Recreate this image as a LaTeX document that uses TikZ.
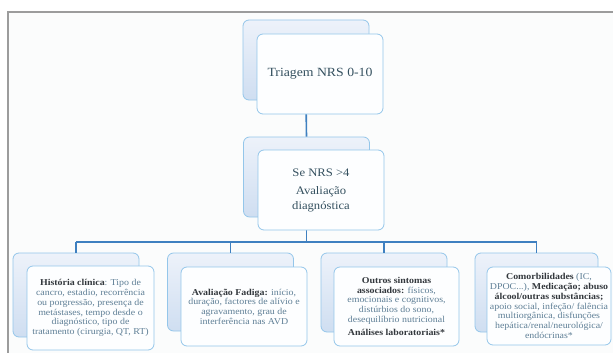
\documentclass[tikz,border=0pt]{standalone}
\usepackage{fontspec}
\setmainfont{Liberation Serif}[FakeStretch=1.1]
\definecolor{framegray}{HTML}{9C9C9C}
\definecolor{pagebg}{HTML}{FBFCFC}
\definecolor{boxline}{HTML}{94C6EA}
\definecolor{backtop}{HTML}{EDF2FA}
\definecolor{backbot}{HTML}{CFDEF1}
\definecolor{frontfill}{HTML}{FDFEFF}
\definecolor{connblue}{HTML}{3F80C0}
\definecolor{darktext}{HTML}{33383D}
\definecolor{titletext}{HTML}{34505F}
\definecolor{lighttext}{HTML}{5F7F96}
\newcommand{\bt}[1]{\textcolor{darktext}{\textbf{#1}}}
\tikzset{
  backbox/.style={draw=boxline, line width=0.8pt, rounded corners=6pt,
    top color=backtop, bottom color=backbot,
    minimum width=126pt, minimum height=80pt, inner sep=0pt},
  frontbox/.style={draw=boxline, line width=0.8pt, rounded corners=6pt,
    fill=frontfill, minimum width=126pt, minimum height=80pt, inner sep=0pt,
    align=center, text=lighttext},
  conn/.style={draw=connblue, line width=1.6pt},
  smalltxt/.style={font=\fontsize{9}{9.7}\selectfont},
}
\begin{document}
\begin{tikzpicture}[x=1pt,y=-1pt]
\useasboundingbox (0,0) rectangle (613,353);
\fill[white] (0,0) rectangle (613,353);
\draw[framegray, line width=1.3pt, fill=pagebg] (8,12) rectangle (640,380);

% back boxes
\node[backbox] (t1b) at (306,60) {};
\node[backbox] (t2b) at (306.5,177) {};
\node[backbox, minimum height=84pt] (b1b) at (76,295) {};
\node[backbox, minimum height=78pt] (b2b) at (230.5,292) {};
\node[backbox, minimum height=79pt] (b3b) at (384,292.5) {};
\node[backbox, minimum width=123pt, minimum height=79pt] (b4b) at (536.5,292.5) {};

% connectors
\coordinate (busL) at (76,242);
\coordinate (busR) at (536.5,242);
\draw[conn] (t1b.south) -- (t2b.north);
\draw[conn] (t2b.south) -- (t2b.south |- busL);
\draw[conn] (busL) -- (busR);
\draw[conn] (busL) -- (b1b.north);
\draw[conn] (b2b.north |- busL) -- (b2b.north);
\draw[conn] (b3b.north |- busL) -- (b3b.north);
\draw[conn] (busR) -- (b4b.north);

% front boxes
\node[frontbox, text=titletext, font=\fontsize{12.5}{14}\selectfont] (t1f) at (320,74) {Triagem NRS 0-10};
\node[frontbox, text=titletext, font=\fontsize{11.5}{15}\selectfont] (t2f) at (321,190)
  {Se NRS >4\\[3pt]Avaliação\\diagnóstica};
\node[frontbox, smalltxt, minimum width=127pt, minimum height=84pt] (b1f) at (90.5,308)
  {\bt{História clínica}: Tipo de\\cancro, estadio, recorrência\\ou porgressão, presença de\\metástases, tempo desde o\\diagnóstico, tipo de\\tratamento (cirurgia, QT, RT)};
\node[frontbox, smalltxt, minimum height=79pt] (b2f) at (244,306.5)
  {\bt{Avaliação Fadiga:} início,\\duração, factores de alívio e\\agravamento, grau de\\interferência nas AVD};
\node[frontbox, smalltxt, minimum width=125pt, minimum height=79pt] (b3f) at (396.5,306.5)
  {\bt{Outros sintomas}\\\bt{associados:} físicos,\\emocionais e cognitivos,\\distúrbios do sono,\\desequilíbrio nutricional\\[4pt]\bt{Análises laboratoriais*}};
\node[frontbox, smalltxt, minimum width=124pt, minimum height=78pt] (b4f) at (549,306)
  {\bt{Comorbilidades} (IC,\\DPOC...), \bt{Medicação; abuso}\\\bt{álcool/outras substâncias;}\\apoio social, infeção/ falência\\multiorgânica, disfunções\\hepática/renal/neurológica/\\endócrinas*};
\end{tikzpicture}
\end{document}
